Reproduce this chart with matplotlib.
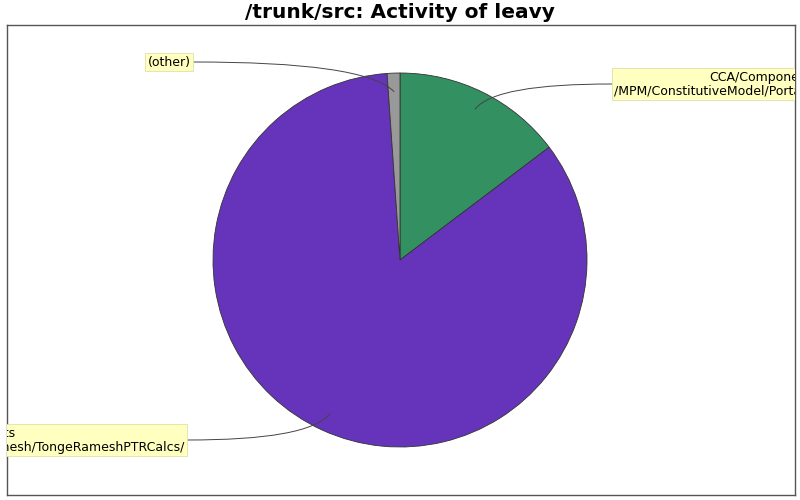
#!/usr/bin/env python3

import matplotlib
matplotlib.use('Agg')
import matplotlib.pyplot as plt
from matplotlib.path import Path
from matplotlib.patches import PathPatch
import numpy as np

# slice shares (percent), clockwise from 12 o'clock
labels = ['CCA/Components\n/MPM/ConstitutiveModel/PortableTongeRamesh/',
          'CCA/Components\n/MPM/ConstitutiveModel/PortableTongeRamesh/TongeRameshPTRCalcs/',
          '(other)']
shares = [14.7, 84.2, 1.1]
colors = ['#339061', '#6633bb', '#999999']

W, H = 800, 500
fig = plt.figure(figsize=(8, 5), dpi=100)
# axes box in pixel units: x 7..795, y 25..495
ax = fig.add_axes([7 / W, 5 / H, 788 / W, 470 / H])
ax.set_xticks([])
ax.set_yticks([])

cx, cy, r = 400, 260, 187
# y axis is inverted, so counterclock=True draws clockwise on screen
wedges, _ = ax.pie(shares, colors=colors, startangle=-90, counterclock=True,
                   center=(cx, cy), radius=r, frame=True,
                   wedgeprops=dict(edgecolor='#333333', linewidth=0.6))
ax.set_xlim(7, 795)
ax.set_ylim(495, 25)
ax.set_aspect('auto')
for s in ax.spines.values():
    s.set_color('#555555')
    s.set_linewidth(1)

# label placement: (box edge x, y, alignment); leader leaves from the box edge
label_pos = [
    (612, 84, 'left'),    # green
    (187, 440, 'right'),  # purple
    (193, 62, 'right'),   # other
]
box = dict(boxstyle='square,pad=0.2', facecolor='#ffffc0', edgecolor='#e0e0a8', linewidth=0.6)
pad = 2.5

start = 0.0
for lab, share, (ex, ty, side) in zip(labels, shares, label_pos):
    mid = (start + share / 2) / 100 * 2 * np.pi
    start += share
    axp = cx + 0.9 * r * np.sin(mid)
    ayp = cy - 0.9 * r * np.cos(mid)
    tx = ex + pad if side == 'left' else ex - pad
    ax.text(tx, ty, lab, ha=side, va='center', multialignment='center',
            fontsize=9, color='black', bbox=box, clip_on=True, zorder=5,
            linespacing=1.1)
    # curved leader line from box edge to the slice
    p0 = (ex, ty)
    p3 = (axp, ayp)
    p1 = (ex + (axp - ex) * 0.55, ty)
    p2 = (axp - (axp - ex) * 0.1, ty + (ayp - ty) * 0.3)
    path = Path([p0, p1, p2, p3], [Path.MOVETO, Path.CURVE4, Path.CURVE4, Path.CURVE4])
    ax.add_patch(PathPatch(path, facecolor='none', edgecolor='#444444', linewidth=0.7, zorder=4))

fig.text(0.5, 1 - 13 / H, '/trunk/src: Activity of leavy', ha='center', va='center',
         fontsize=14.5, fontweight='bold')

plt.savefig('out.png', dpi=100)
print('Saved plot to out.png')
